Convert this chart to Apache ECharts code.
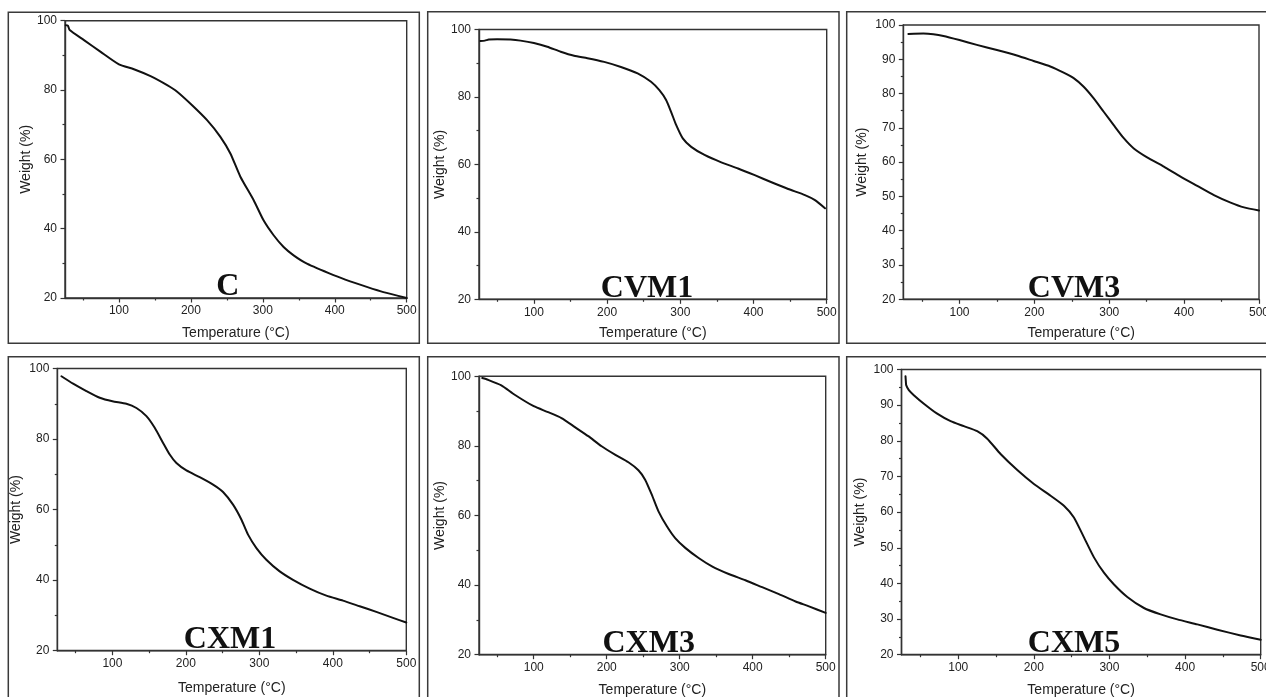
<!DOCTYPE html>
<html>
<head>
<meta charset="utf-8">
<script src="https://cdn.jsdelivr.net/npm/echarts@6/dist/echarts.min.js"></script>
<style>
  html, body { margin: 0; padding: 0; background: #fff; }
  #chart { width: 1266px; height: 697px; }
</style>
</head>
<body>
<div id="chart"></div>
<script>
// TGA curves: temperature (°C) and remaining weight (%) per sample
const tempC     = [26, 29, 31.5, 51.4, 74.6, 100, 120.8, 143.9, 167, 180.9, 201.7, 222.5, 241, 254.9, 268.8, 287.3, 301, 315, 328.9, 342.8, 361.3, 398.3, 421.4, 444.5, 467.6, 500];
const weightC   = [98.7, 98.6, 97.3, 94.4, 91.0, 87.4, 86.0, 84.0, 81.4, 79.5, 75.6, 71.3, 66.5, 61.7, 55.0, 48.2, 42.4, 38.1, 34.7, 32.3, 29.9, 26.6, 24.8, 23.2, 21.7, 20.0];

const tempCVM1   = [26.9, 33, 38.3, 49.7, 68, 81.7, 100, 118.3, 136.6, 154.9, 173.1, 196, 218.9, 241.7, 260, 271.4, 280.6, 287.4, 294.3, 303.4, 314.9, 333.1, 356, 378.9, 401.7, 424.6, 447.4, 470.3, 484, 497.7];
const weightCVM1 = [96.6, 96.7, 97.0, 97.1, 97.0, 96.7, 96.0, 94.9, 93.4, 92.2, 91.5, 90.4, 88.9, 87.0, 84.5, 82.0, 79.1, 75.6, 71.7, 67.7, 65.2, 62.8, 60.6, 58.8, 56.8, 54.7, 52.7, 50.9, 49.4, 47.0];

const tempCVM3   = [31.8, 51.8, 65.2, 78.6, 100, 123.2, 150, 176.7, 199, 221.3, 239.1, 252.5, 265.9, 279.3, 292.6, 306, 319.4, 332.8, 350.6, 372.9, 395.2, 417.5, 439.8, 462.1, 480, 500];
const weightCVM3 = [97.4, 97.5, 97.3, 96.8, 95.6, 94.2, 92.7, 91.1, 89.5, 87.9, 86.1, 84.5, 82.0, 78.6, 74.7, 70.8, 67.0, 64.0, 61.4, 58.7, 55.8, 53.1, 50.4, 48.2, 46.8, 45.9];

const tempCXM1   = [30.6, 46.5, 64.6, 82.8, 100, 119, 132.7, 146.3, 157.6, 169, 178, 187.1, 200.7, 218.8, 237, 250.6, 264.2, 275.5, 284.6, 296, 309.5, 327.7, 345.8, 368.5, 391.2, 413.8, 436.5, 459.2, 481.9, 500];
const weightCXM1 = [97.8, 95.7, 93.6, 91.7, 90.7, 90.0, 88.8, 86.5, 83.2, 78.9, 75.6, 73.2, 71.1, 69.2, 67.1, 65.0, 61.4, 57.2, 52.9, 49.1, 45.8, 42.5, 40.1, 37.6, 35.6, 34.2, 32.6, 31.0, 29.3, 28.0];

const tempCXM3   = [29.4, 37.2, 55.6, 73.9, 100, 119.7, 138, 156.4, 174.7, 193, 211.3, 229.7, 243.4, 252.6, 261.7, 270.9, 282.4, 293.8, 307.6, 325.9, 344.2, 367.1, 390, 412.9, 435.9, 458.8, 477.1, 500];
const weightCXM3 = [99.5, 99.0, 97.4, 94.7, 91.4, 89.7, 88.0, 85.4, 82.8, 79.9, 77.5, 75.3, 73.0, 70.3, 66.0, 61.2, 56.9, 53.5, 50.7, 47.8, 45.4, 43.2, 41.4, 39.4, 37.4, 35.3, 33.9, 32.0];

const tempCXM5   = [30.3, 30.8, 31.2, 34.7, 41.3, 54.6, 72.2, 89.9, 107.5, 125.1, 138.4, 156, 178.1, 200.1, 222.2, 239.8, 253, 266.3, 279.5, 292.7, 306, 323.6, 345.6, 367.7, 389.7, 416.2, 442.7, 473.5, 500];
const weightCXM5 = [98.1, 96.5, 95.6, 94.2, 92.8, 90.4, 87.6, 85.5, 84.1, 82.7, 80.6, 76.3, 71.8, 67.9, 64.6, 61.8, 58.5, 52.9, 47.3, 43.0, 39.7, 36.2, 33.1, 31.3, 29.9, 28.5, 27.0, 25.4, 24.2];

// Axis ranges and tick positions
const tempMin = 25, tempMax = 500;
const majorTempTicks = [100, 200, 300, 400, 500];
const minorTempTicks = [50, 150, 250, 350, 450];
const weightMin = 20, weightMax = 100;

const xName = 'Temperature (°C)';
const yName = 'Weight (%)';

// Panel layout: plot area, surrounding frame, sample label placement
const panels = [
  { label: 'C',    temp: tempC,    weight: weightC,    yStep: 20,
    grid: { left: 65,    top: 20.7,  width: 341.7, height: 277.3 }, frame: [8.3, 12.3, 411, 331],     labelX: 227.7, yGap: 32, xGap: 28 },
  { label: 'CVM1', temp: tempCVM1, weight: weightCVM1, yStep: 20,
    grid: { left: 479,   top: 29.5,  width: 347.7, height: 269.8 }, frame: [427.7, 11.7, 411.3, 331.6], labelX: 647,   yGap: 32, xGap: 27 },
  { label: 'CVM3', temp: tempCVM3, weight: weightCVM3, yStep: 10,
    grid: { left: 903.3, top: 25,    width: 355.7, height: 274.3 }, frame: [846.7, 11.7, 430, 331.6],   labelX: 1074,  yGap: 34, xGap: 27 },
  { label: 'CXM1', temp: tempCXM1, weight: weightCXM1, yStep: 20,
    grid: { left: 57.3,  top: 368.5, width: 349,   height: 282.2 }, frame: [8.3, 356.7, 411, 360],      labelX: 230,   yGap: 34, xGap: 30 },
  { label: 'CXM3', temp: tempCXM3, weight: weightCXM3, yStep: 20,
    grid: { left: 479,   top: 376.3, width: 346.7, height: 278.4 }, frame: [427.7, 356.7, 411.3, 360],  labelX: 648.7, yGap: 32, xGap: 28 },
  { label: 'CXM5', temp: tempCXM5, weight: weightCXM5, yStep: 10,
    grid: { left: 901.5, top: 369.5, width: 359.2, height: 285.2 }, frame: [846.7, 356.7, 430, 360],    labelX: 1074,  yGap: 34, xGap: 28 }
];

const axisColor = '#333';
const textColor = '#222';
const sansFont = '"Liberation Sans", Arial, sans-serif';
const serifFont = '"Liberation Serif", "Times New Roman", serif';

const grids = [], xAxes = [], yAxes = [], series = [], graphics = [];

panels.forEach((p, i) => {
  grids.push(Object.assign({
    show: true, borderColor: axisColor, borderWidth: 1.4,
    backgroundColor: 'transparent', containLabel: false, outerBoundsMode: 'none'
  }, p.grid));

  // main temperature axis: labels and major ticks
  xAxes.push({
    gridIndex: i, type: 'value', position: 'bottom', min: tempMin, max: tempMax,
    name: xName, nameLocation: 'middle', nameGap: p.xGap,
    nameTextStyle: { fontFamily: sansFont, fontSize: 14, color: textColor },
    axisLine: { show: true, onZero: false, lineStyle: { color: axisColor, width: 1.4 } },
    axisTick: { show: true, inside: false, length: 4.5, customValues: majorTempTicks, lineStyle: { color: axisColor, width: 1.2 } },
    axisLabel: { show: true, customValues: majorTempTicks, margin: 7, fontFamily: sansFont, fontSize: 12, color: textColor },
    splitLine: { show: false }
  });
  // companion axis carrying the minor temperature ticks
  xAxes.push({
    gridIndex: i, type: 'value', position: 'bottom', min: tempMin, max: tempMax,
    axisLine: { show: false, onZero: false },
    axisTick: { show: true, inside: false, length: 2.5, customValues: minorTempTicks, lineStyle: { color: axisColor, width: 1.2 } },
    axisLabel: { show: false },
    splitLine: { show: false }
  });

  yAxes.push({
    gridIndex: i, type: 'value', position: 'left', min: weightMin, max: weightMax, interval: p.yStep,
    name: yName, nameLocation: 'middle', nameGap: p.yGap,
    nameTextStyle: { fontFamily: sansFont, fontSize: 14, color: textColor },
    axisLine: { show: true, onZero: false, lineStyle: { color: axisColor, width: 1.4 } },
    axisTick: { show: true, inside: false, length: 4.5, lineStyle: { color: axisColor, width: 1.2 } },
    minorTick: { show: true, splitNumber: 2, length: 2.5, lineStyle: { color: axisColor, width: 1.2 } },
    axisLabel: { show: true, margin: 8, fontFamily: sansFont, fontSize: 12, color: textColor },
    splitLine: { show: false }, minorSplitLine: { show: false }
  });

  series.push({
    type: 'line', name: p.label,
    xAxisIndex: i * 2, yAxisIndex: i,
    data: p.temp.map((t, k) => [t, p.weight[k]]),
    showSymbol: false, smooth: 0.2,
    lineStyle: { color: '#111', width: 2, join: 'round', cap: 'round' },
    clip: true, silent: true, animation: false
  });

  // panel frame
  graphics.push({
    type: 'rect', silent: true,
    shape: { x: p.frame[0], y: p.frame[1], width: p.frame[2], height: p.frame[3] },
    style: { fill: 'none', stroke: '#3a3a3a', lineWidth: 1.5 }
  });
  // sample name sitting on the temperature axis
  graphics.push({
    type: 'text', silent: true, z: 100,
    x: p.labelX, y: p.grid.top + p.grid.height + 5,
    style: { text: p.label, font: 'bold 32px ' + serifFont, fill: '#111', textAlign: 'center', textVerticalAlign: 'bottom' }
  });
});

const chart = echarts.init(document.getElementById('chart'), null, { renderer: 'canvas' });
chart.setOption({
  backgroundColor: '#fff',
  animation: false,
  grid: grids,
  xAxis: xAxes,
  yAxis: yAxes,
  series: series,
  graphic: graphics
});
</script>
</body>
</html>
